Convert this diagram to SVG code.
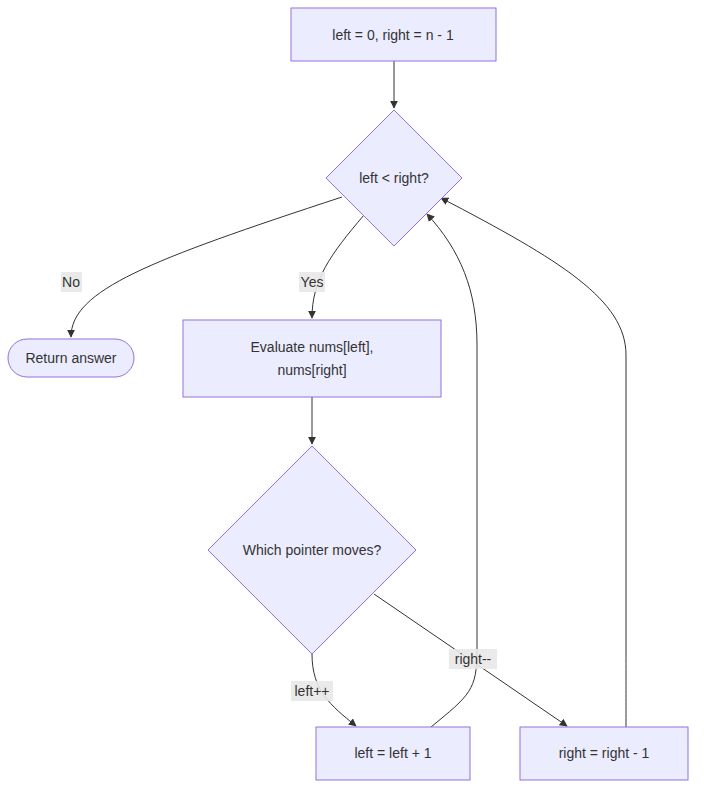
<svg xmlns="http://www.w3.org/2000/svg" width="704" height="798" viewBox="0 0 704 798">
<style>
.n{fill:#ECECFF;stroke:#9370DB;stroke-width:1}
.t{font-family:"Liberation Sans",Arial,sans-serif;font-size:14px;fill:#333;text-anchor:middle;dominant-baseline:central}
.e{fill:none;stroke:#333;stroke-width:1}
.lb{fill:#e8e8e8;opacity:0.9}
</style>
<defs><marker id="a" viewBox="0 0 10 10" refX="9" refY="5" markerWidth="8" markerHeight="8" orient="auto"><path d="M0,0L10,5L0,10z" fill="#333"/></marker></defs>
<rect width="704" height="798" fill="#fff"/>
<g id="edges">
<path class="e" d="M394,61V108" marker-end="url(#a)"/>
<path class="e" d="M342,197C150,260 71,290 71,337" marker-end="url(#a)"/>
<path class="e" d="M364,215C330,255 312,280 312,318" marker-end="url(#a)"/>
<path class="e" d="M312,397V444" marker-end="url(#a)"/>
<path class="e" d="M312,654C312,690 330,705 356,726" marker-end="url(#a)"/>
<path class="e" d="M374,594L567,726" marker-end="url(#a)"/>
<path class="e" d="M431,727C470,695 477,690 477,650V345C477,290 460,250 427,214" marker-end="url(#a)"/>
<path class="e" d="M626,727C626,700 626,690 626,650V355C626,300 560,260 441,198" marker-end="url(#a)"/>
<rect class="lb" x="61" y="272" width="21" height="20"/><text class="t" x="71" y="282">No</text>
<rect class="lb" x="299" y="272" width="26" height="20"/><text class="t" x="312" y="282">Yes</text>
<rect class="lb" x="291" y="681" width="42" height="20"/><text class="t" x="312" y="691">left++</text>
<rect class="lb" x="449" y="649" width="48" height="20"/><text class="t" x="473" y="659">right--</text>
</g>
<g id="start"><rect class="n" x="291" y="8" width="205" height="53"/><text class="t" x="393" y="35">left = 0, right = n - 1</text></g>
<g id="cond"><path class="n" d="M394,110L462,178L394,246L326,178Z"/><text class="t" x="394" y="178">left &lt; right?</text></g>
<g id="ret"><rect class="n" x="8" y="339" width="126" height="38" rx="19"/><text class="t" x="71" y="358">Return answer</text></g>
<g id="eval"><rect class="n" x="183" y="320" width="258" height="77"/><text class="t" x="312" y="347">Evaluate nums[left],</text><text class="t" x="312" y="370">nums[right]</text></g>
<g id="which"><path class="n" d="M312,446L416,550L312,654L208,550Z"/><text class="t" x="312" y="550">Which pointer moves?</text></g>
<g id="inc"><rect class="n" x="316" y="727" width="154" height="53"/><text class="t" x="393" y="753">left = left + 1</text></g>
<g id="dec"><rect class="n" x="520" y="727" width="168" height="53"/><text class="t" x="604" y="753">right = right - 1</text></g>
</svg>
